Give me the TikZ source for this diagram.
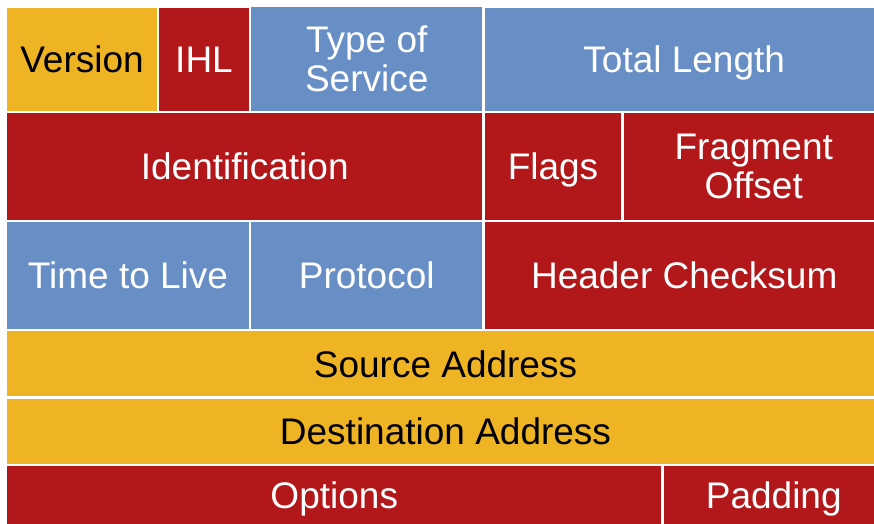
\documentclass[tikz,border=0pt]{standalone}
\usepackage{fontspec}
\setmainfont{Liberation Sans}
\usepackage{tikz}
\usetikzlibrary{calc}
\definecolor{ipgold}{RGB}{239,180,36}
\definecolor{ipred}{RGB}{178,24,26}
\definecolor{ipblue}{RGB}{104,143,197}

\begin{document}
\begin{tikzpicture}[x=1pt, y=-1pt,
                        field/.style={draw=white, line width=2.5pt, inner sep=0pt, align=center, font=\fontsize{37}{39}\selectfont},
                        oneline/.style={text height=26.5pt, text depth=0pt},
                        goldfield/.style={field, fill=ipgold, text=black},
                        redfield/.style={field, fill=ipred, text=white},
                        bluefield/.style={field, fill=ipblue, text=white}]
                        \useasboundingbox (0,0) rectangle (874,523);
                        \fill[white] (0,0) rectangle (874,523);
                        % row 1
                        \node[goldfield, oneline, minimum width=152pt, minimum height=106pt] (version) at (82,59.5) {Version};
                        \node[redfield, oneline, minimum width=92pt, minimum height=106pt] (ihl) at (204,59.5) {IHL};
                        \node[bluefield, minimum width=233.5pt, minimum height=106pt] (tos) at (366.75,59) {Type of\\Service};
                        \node[bluefield, oneline, minimum width=401.5pt, minimum height=106pt] (total) at (684.25,59.5) {Total Length};
                        % row 2
                        \node[redfield, oneline, minimum width=477.5pt, minimum height=109pt] (ident) at (244.75,166.5) {Identification};
                        \node[redfield, oneline, minimum width=139pt, minimum height=109pt] (flags) at (553,166.5) {Flags};
                        \node[redfield, minimum width=262.5pt, minimum height=109pt] (frag) at (753.75,166.5) {Fragment\\Offset};
                        % row 3
                        \node[bluefield, oneline, minimum width=244pt, minimum height=109pt] (ttl) at (128,275.5) {Time to Live};
                        \node[bluefield, oneline, minimum width=233.5pt, minimum height=109pt] (proto) at (366.75,275.5) {Protocol};
                        \node[redfield, oneline, minimum width=401.5pt, minimum height=109pt] (cksum) at (684.25,275.5) {Header Checksum};
                        % rows 4 and 5
                        \node[goldfield, oneline, minimum width=879pt, minimum height=67.5pt] (src) at (445.5,363.75) {Source Address};
                        \node[goldfield, oneline, minimum width=879pt, minimum height=67.5pt] (dst) at (445.5,431.25) {Destination Address};
                        % row 6
                        \node[redfield, oneline, minimum width=656.5pt, minimum height=61pt] (opts) at (334.25,495.5) {Options};
                        \node[redfield, oneline, minimum width=222.5pt, minimum height=61pt] (pad) at (773.75,495.5) {Padding};
                    \end{tikzpicture}
\end{document}
